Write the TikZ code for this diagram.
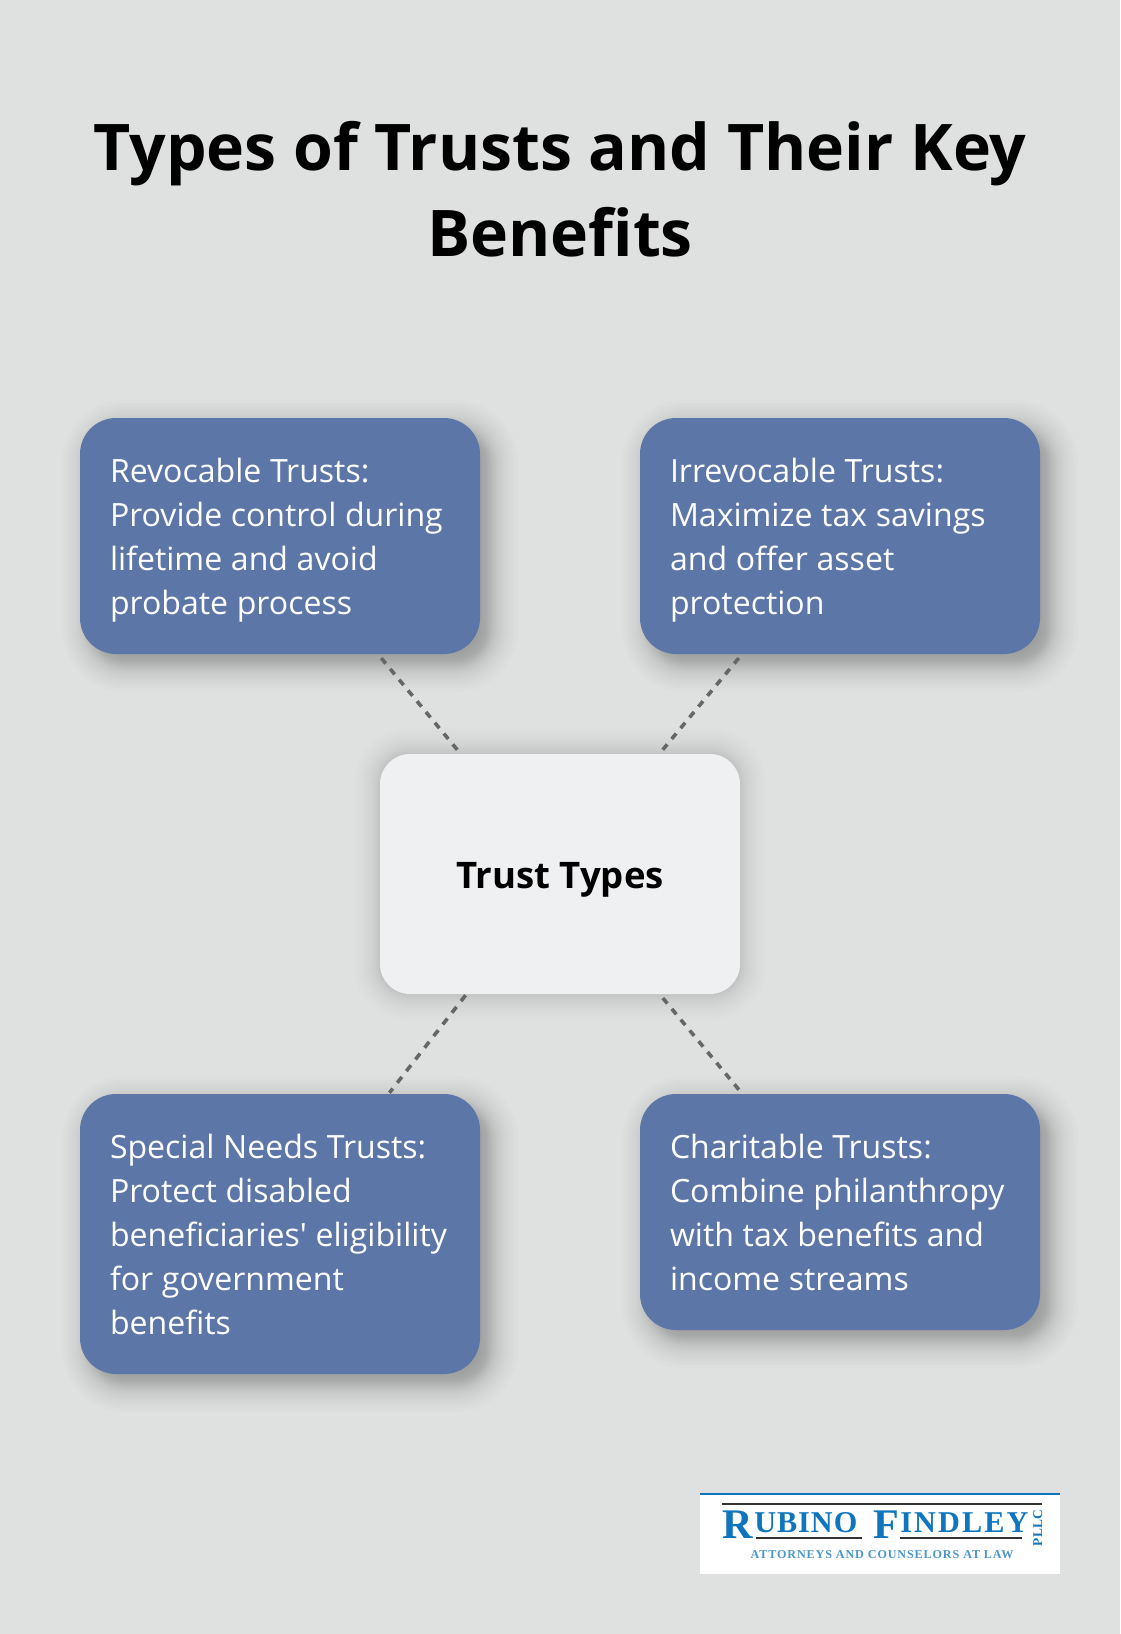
\documentclass[tikz,border=0pt]{standalone}
\usepackage{fontspec}
\usepackage{tikz}
\usetikzlibrary{positioning,backgrounds}
\setmainfont{Open Sans}
\newfontfamily\logofont[LetterSpace=3.3]{Liberation Serif}
\newfontfamily\tagfont[LetterSpace=7.5]{Liberation Serif}

\definecolor{paper}{HTML}{DFE1E0}
\definecolor{trustblue}{HTML}{5D76A8}
\definecolor{hubgrey}{HTML}{EFF0F2}
\definecolor{linkgrey}{HTML}{666666}
\definecolor{logoblue}{HTML}{0F75BC}
\definecolor{logotag}{HTML}{4A96CF}

% soft shadow: node, x shift, y shift, radius, corner, opacity of one layer
\newcommand{\softshadow}[6]{%
    \foreach \k in {-14,...,14} {
        \pgfmathsetmacro{\s}{#4*(.5*\k/14+.5*(\k/14)^3)}
        \fill[black, fill opacity=#6, rounded corners=#5cm+\s cm]
            ([shift={(#2-\s,#3+\s)}]#1.north west) -- ([shift={(#2+\s,#3+\s)}]#1.north east)
            -- ([shift={(#2+\s,#3-\s)}]#1.south east) -- ([shift={(#2-\s,#3-\s)}]#1.south west) -- cycle;
    }%
}

\begin{document}
\begin{tikzpicture}[%
            node distance=14cm,
            on grid,
            trust/.style={rectangle, rounded corners=.9cm, fill=trustblue, text=white,
                minimum width=10cm, minimum height=5.9cm, inner sep=0pt,
                text width=8.5cm, align=left,
                font=\fontsize{22.8}{31.2}\selectfont,
                execute at begin node={\spaceskip=.27em\relax\rule{0pt}{24.5pt}},
                execute at end node=\rule[-6.7pt]{0pt}{6.7pt}},
            hub/.style={rectangle, rounded corners=.75cm, fill=hubgrey,
                minimum width=9cm, minimum height=6cm, inner sep=0pt,
                text height=20.8pt, text depth=0pt,
                font=\fontsize{26}{31.2}\selectfont\bfseries},
            link/.style={draw=linkgrey, line width=.09cm, dash pattern=on .175cm off .175cm, shorten >=.125cm, shorten <=.125cm},
            logorule/.style={draw=black!80, line width=.05cm}
            ]
            \node[align=center, font=\fontsize{45.75}{61}\selectfont\bfseries] (title) at (14,-4.73)
                {Types of Trusts and Their Key\\Benefits};

            \node[trust] (revocable) at (7,-13.4)
                {Revocable Trusts:\\Provide control during\\lifetime and avoid\\probate process};
            \node[trust] (irrevocable) [right=of revocable]
                {Irrevocable Trusts:\\Maximize tax savings\\and offer asset\\protection};
            \node[trust, minimum height=7cm] (special) [below=17.45cm of revocable]
                {Special Needs Trusts:\\Protect disabled\\beneficiaries\textquotesingle{} eligibility\\for government\\benefits};
            \node[trust] (charitable) [below=16.9cm of irrevocable]
                {Charitable Trusts:\\Combine philanthropy\\with tax benefits and\\income streams};
            \node[hub] (types) at (14,-21.85) {Trust Types};

            \begin{scope}[on background layer]
                \fill[paper] (0,0) rectangle (28,-40.85);
                \foreach \boxname in {revocable,irrevocable,special,charitable} {
                    \softshadow{\boxname}{.25}{-.25}{.7}{.9}{.013}
                }
                \softshadow{types}{0}{0}{.65}{.75}{.008}
            \end{scope}

            \draw[link] (revocable) -- (types);
            \draw[link] (irrevocable) -- (types);
            \draw[link, dash pattern=on .185cm off .185cm, shorten >=.03cm, shorten <=.03cm] (types) -- (special);
            \draw[link] (types) -- (charitable);

            % logo
            \node[fill=white, minimum width=9cm, minimum height=2cm, inner sep=0pt] (logo) at (22,-38.35) {};
            \draw[logoblue, line width=.05cm] (logo.north west) -- (logo.north east);
            \coordinate (ruletopa) at (18.05,-37.6);
            \coordinate (ruletopb) at (26.05,-37.6);
            \coordinate (rulerba) at (18.9,-38.45);
            \coordinate (rulerbb) at (21.55,-38.45);
            \coordinate (rulefda) at (22.5,-38.45);
            \coordinate (rulefdb) at (25.55,-38.45);
            \draw[logorule] (ruletopa) -- (ruletopb);
            \draw[logorule] (rulerba) -- (rulerbb);
            \draw[logorule] (rulefda) -- (rulefdb);
            \node[anchor=base west, inner sep=0pt, text=logoblue, font=\logofont\bfseries\fontsize{30}{30}\selectfont] (logor) at (18.05,-38.47) {R};
            \node[anchor=base west, inner sep=0pt, text=logoblue, font=\logofont\bfseries\fontsize{21.5}{21}\selectfont] (logoubino) at (18.85,-38.3) {UBINO};
            \node[anchor=base west, inner sep=0pt, text=logoblue, font=\logofont\bfseries\fontsize{30}{30}\selectfont] (logof) at (21.83,-38.47) {F};
            \node[anchor=base west, inner sep=0pt, text=logoblue, font=\logofont\bfseries\addfontfeature{LetterSpace=7}\fontsize{21.5}{21}\selectfont] (logoindley) at (22.5,-38.3) {INDLEY};
            \node[anchor=base, rotate=90, inner sep=0pt, text=logoblue, font=\logofont\bfseries\fontsize{9.5}{9.5}\selectfont] (logopllc) at (26.05,-38.2) {PLLC};
            \node[anchor=base, inner sep=0pt, text=logotag, font=\tagfont\bfseries\fontsize{8.6}{8.6}\selectfont] (logotagline) at (22.05,-38.95) {ATTORNEYS AND COUNSELORS AT LAW};
        \end{tikzpicture}
\end{document}
